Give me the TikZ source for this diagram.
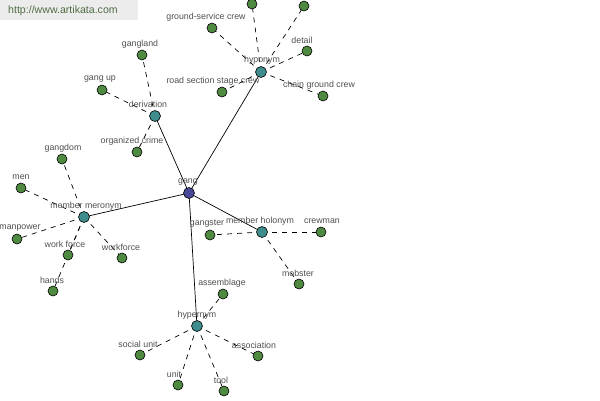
\documentclass[tikz,border=0pt]{standalone}
\usepackage{fontspec}
\setmainfont{Liberation Sans}
\begin{document}
\begin{tikzpicture}[x=1pt,y=-1pt,
  leaf/.style={circle,draw=black,line width=0.6pt,fill=leafgreen,minimum size=10pt,inner sep=0pt},
  hub/.style={circle,draw=black,line width=0.6pt,fill=hubteal,minimum size=11pt,inner sep=0pt},
  root/.style={circle,draw=black,line width=0.6pt,fill=rootblue,minimum size=11pt,inner sep=0pt},
  lab/.style={font=\fontsize{8.8}{9}\selectfont,text=labgray,inner sep=0pt},
  solidlink/.style={draw=black,line width=0.7pt},
  dashlink/.style={draw=black,line width=0.7pt,dash pattern=on 5pt off 5pt}]
\definecolor{leafgreen}{RGB}{78,138,64}
\definecolor{hubteal}{RGB}{62,140,140}
\definecolor{rootblue}{RGB}{72,72,150}
\definecolor{labgray}{RGB}{80,80,80}
\definecolor{wmbg}{RGB}{236,236,236}
\definecolor{wmtext}{RGB}{80,110,70}
\useasboundingbox (0,0) rectangle (600,400);
\fill[white] (0,0) rectangle (600,400);
\fill[wmbg] (0,0) rectangle (138,20);
\node[font=\fontsize{10.6}{12}\selectfont,text=wmtext,anchor=west,inner sep=0pt] (wm) at (8,11) {http://www.artikata.com};
% coordinates
\coordinate (pgang) at (189,193);
\coordinate (pder) at (155,116);
\coordinate (phyp) at (261,72);
\coordinate (pmer) at (84,217);
\coordinate (phol) at (262,232);
\coordinate (pher) at (197,326);
% solid links
\draw[solidlink] (pgang) -- (pder);
\draw[solidlink] (pgang) -- (phyp);
\draw[solidlink] (pgang) -- (pmer);
\draw[solidlink] (pgang) -- (phol);
\draw[solidlink] (pgang) -- (pher);
% leaf coordinates
\coordinate (pgangland) at (142,55);
\coordinate (pgangup) at (102,90);
\coordinate (porg) at (137,152);
\coordinate (pground) at (212,28);
\coordinate (ptopa) at (252,4);
\coordinate (ptopb) at (304,6);
\coordinate (pdetail) at (307,51);
\coordinate (proad) at (222,92);
\coordinate (pchain) at (323,96);
\coordinate (pgangdom) at (62,159);
\coordinate (pmen) at (21,188);
\coordinate (pmanpower) at (17,239);
\coordinate (pworkforce) at (68,255);
\coordinate (pworkforcetwo) at (122,258);
\coordinate (phands) at (53,291);
\coordinate (pgangster) at (210,235);
\coordinate (pcrewman) at (321,232);
\coordinate (pmobster) at (299,284);
\coordinate (passem) at (223,294);
\coordinate (psocial) at (140,355);
\coordinate (punit) at (178,385);
\coordinate (ptool) at (224,391);
\coordinate (passoc) at (258,356);
% dashed links
\foreach \a/\b in {pder/pgangland,pder/pgangup,pder/porg,
  phyp/pground,phyp/ptopa,phyp/ptopb,phyp/pdetail,phyp/proad,phyp/pchain,
  pmer/pgangdom,pmer/pmen,pmer/pmanpower,pmer/pworkforce,pmer/pworkforcetwo,pmer/phands,
  phol/pgangster,phol/pcrewman,phol/pmobster,
  pher/passem,pher/psocial,pher/punit,pher/ptool,pher/passoc}
  \draw[dashlink] (\a) -- (\b);
% nodes
\node[root] (gang) at (pgang) {};
\node[hub] (der) at (pder) {};
\node[hub] (hyp) at (phyp) {};
\node[hub] (mer) at (pmer) {};
\node[hub] (hol) at (phol) {};
\node[hub] (her) at (pher) {};
\foreach \p in {pgangland,pgangup,porg,pground,ptopa,ptopb,pdetail,proad,pchain,
  pgangdom,pmen,pmanpower,pworkforce,pworkforcetwo,phands,pgangster,pcrewman,pmobster,
  passem,psocial,punit,ptool,passoc}
  \node[leaf] (n\p) at (\p) {};
% labels
\node[lab] (lgang) at (188,182) {gang};
\node[lab] (lder) at (148,104) {derivation};
\node[lab] (lhyp) at (262,60) {hyponym};
\node[lab] (lmer) at (86,206) {member meronym};
\node[lab] (lhol) at (260,221) {member holonym};
\node[lab] (lher) at (197,315) {hypernym};
\node[lab] (lgangland) at (140,44) {gangland};
\node[lab] (lgangup) at (100,79) {gang up};
\node[lab] (lorg) at (132,141) {organized crime};
\node[lab] (lground) at (206,17) {ground-service crew};
\node[lab] (ldetail) at (302,40) {detail};
\node[lab] (lroad) at (213,81) {road section stage crew};
\node[lab] (lchain) at (319,85) {chain ground crew};
\node[lab] (lgangdom) at (63,148) {gangdom};
\node[lab] (lmen) at (21,177) {men};
\node[lab] (lmanpower) at (20,228) {manpower};
\node[lab] (lworkforce) at (65,244) {work force};
\node[lab] (lworkforcetwo) at (121,247) {workforce};
\node[lab] (lhands) at (52,280) {hands};
\node[lab] (lgangster) at (207,224) {gangster};
\node[lab] (lcrewman) at (322,221) {crewman};
\node[lab] (lmobster) at (298,273) {mobster};
\node[lab] (lassem) at (222,283) {assemblage};
\node[lab] (lsocial) at (138,344) {social unit};
\node[lab] (lunit) at (174,374) {unit};
\node[lab] (ltool) at (221,380) {tool};
\node[lab] (lassoc) at (254,345) {association};
\end{tikzpicture}
\end{document}
